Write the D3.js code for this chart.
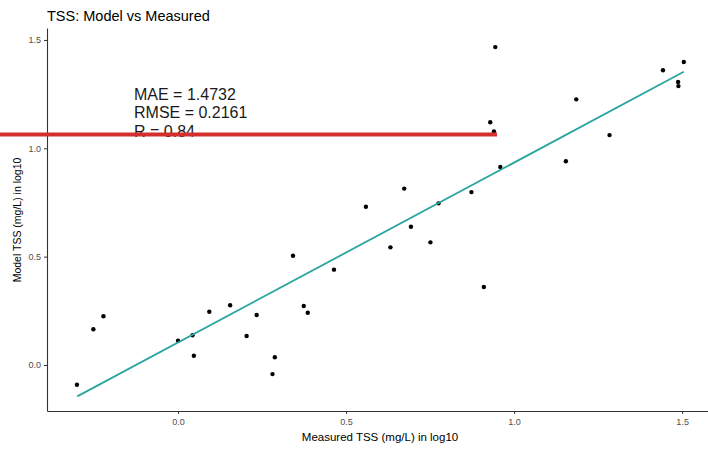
<!DOCTYPE html>
<html>
<head>
<meta charset="utf-8">
<script src="https://cdn.jsdelivr.net/npm/d3@7"></script>
<style>
  body { margin: 0; background: #fff; }
  svg { display: block; font-family: "Liberation Sans", Arial, sans-serif; }
</style>
</head>
<body>
<svg id="chart" width="708" height="450"></svg>
<script>
// measured (x) vs model (y), both log10 TSS
const measured = [-0.301, -0.252, -0.222, 0.0, 0.043, 0.047, 0.093, 0.155, 0.204, 0.234,
  0.281, 0.288, 0.342, 0.374, 0.386, 0.464, 0.559, 0.632, 0.673, 0.693,
  0.751, 0.775, 0.873, 0.910, 0.929, 0.940, 0.944, 0.959, 1.154, 1.185,
  1.284, 1.443, 1.488, 1.489, 1.505];
const model = [-0.091, 0.165, 0.225, 0.112, 0.137, 0.043, 0.246, 0.276, 0.134, 0.231,
  -0.042, 0.036, 0.504, 0.272, 0.241, 0.440, 0.730, 0.543, 0.814, 0.638,
  0.566, 0.746, 0.798, 0.360, 1.120, 1.078, 1.467, 0.914, 0.940, 1.226,
  1.061, 1.360, 1.306, 1.287, 1.398];

// fitted line
const fitX = [-0.30, 1.505];
const fitSlope = 0.83;
const fitIntercept = 0.104;

const tickValues = [0, 0.5, 1.0, 1.5];
const statsLines = ["MAE = 1.4732", "RMSE = 0.2161", "R = 0.84"];

const svg = d3.select("#chart");

const x = d3.scaleLinear().domain([-0.39, 1.577]).range([47, 708]);
const y = d3.scaleLinear().domain([-0.2123, 1.5552]).range([411, 28]);

// title
svg.append("text")
  .attr("x", 47).attr("y", 21)
  .attr("font-size", 14.5).attr("fill", "#000")
  .text("TSS: Model vs Measured");

// axes
const xAxis = svg.append("g")
  .attr("transform", "translate(0,411)")
  .call(d3.axisBottom(x).tickValues(tickValues).tickFormat(d3.format(".1f")).tickSize(3).tickSizeOuter(0));
const yAxis = svg.append("g")
  .attr("transform", "translate(47,0)")
  .call(d3.axisLeft(y).tickValues(tickValues).tickFormat(d3.format(".1f")).tickSize(3).tickSizeOuter(0));

[xAxis, yAxis].forEach(g => {
  g.select(".domain").attr("stroke", "#333").attr("stroke-width", 1.1);
  g.selectAll(".tick line").attr("stroke", "#333");
  g.selectAll(".tick text").attr("fill", "#4d4d4d").attr("font-size", 9)
    .attr("font-family", "Liberation Sans, Arial, sans-serif");
});
xAxis.selectAll(".tick text").attr("dy", "0.9em");

// axis titles
svg.append("text")
  .attr("x", 380).attr("y", 441)
  .attr("text-anchor", "middle")
  .attr("font-size", 11.5).attr("fill", "#000")
  .text("Measured TSS (mg/L) in log10");

svg.append("text")
  .attr("transform", "translate(21,220) rotate(-90)")
  .attr("text-anchor", "middle")
  .attr("font-size", 10.5).attr("fill", "#000")
  .text("Model TSS (mg/L) in log10");

// points
svg.append("g")
  .selectAll("circle")
  .data(measured.map((m, i) => [m, model[i]]))
  .enter()
  .append("circle")
  .attr("cx", d => x(d[0]))
  .attr("cy", d => y(d[1]))
  .attr("r", 2.2)
  .attr("fill", "#000");

// regression line
const line = d3.line()
  .x(d => x(d))
  .y(d => y(fitIntercept + fitSlope * d));
svg.append("path")
  .datum(fitX)
  .attr("d", line)
  .attr("fill", "none")
  .attr("stroke", "#2aa5a0")
  .attr("stroke-width", 1.8);

// stats annotation
svg.append("g")
  .selectAll("text")
  .data(statsLines)
  .enter()
  .append("text")
  .attr("x", 134)
  .attr("y", (d, i) => 100 + i * 18.3)
  .attr("font-size", 16)
  .attr("fill", "#1a1a1a")
  .text(d => d);

// red overlay bar
svg.append("rect")
  .attr("x", 0).attr("y", 132.5)
  .attr("width", 497).attr("height", 4)
  .attr("fill", "#d32f2f");
</script>
</body>
</html>
